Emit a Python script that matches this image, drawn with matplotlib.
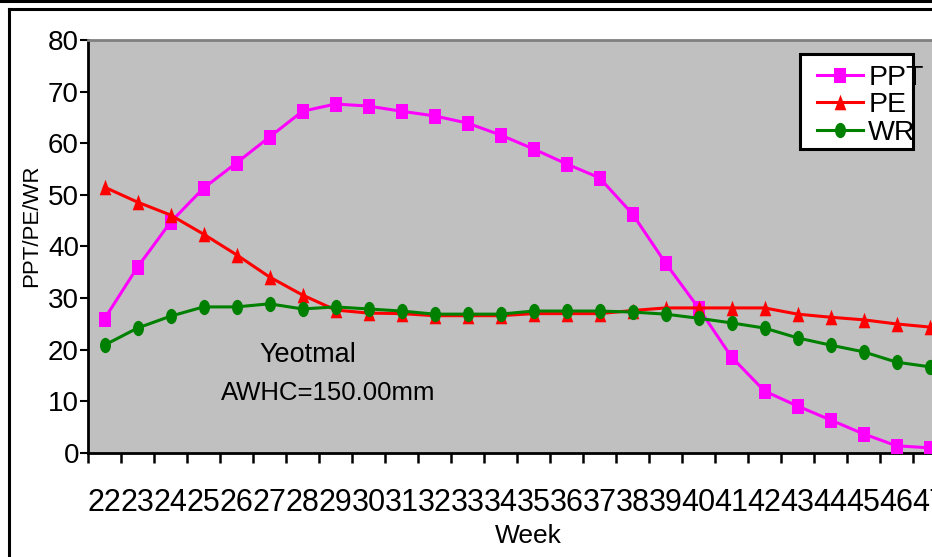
import numpy as np
import matplotlib
matplotlib.use("Agg")
import matplotlib.pyplot as plt
from matplotlib.path import Path
from matplotlib.lines import Line2D
from matplotlib.patches import Rectangle

weeks = list(range(22, 48))
ppt = [26.0, 36.0, 44.7, 51.3, 56.2, 61.2, 66.2, 67.6, 67.2, 66.2, 65.3, 63.9, 61.6,
       58.9, 56.0, 53.3, 46.3, 36.8, 28.1, 18.6, 12.0, 9.1, 6.4, 3.7, 1.4, 1.0]
pe = [51.5, 48.6, 46.1, 42.4, 38.4, 34.1, 30.6, 27.7, 27.1, 27.0, 26.6, 26.6, 26.6,
      27.0, 27.0, 27.0, 27.6, 28.1, 28.1, 28.1, 28.1, 26.9, 26.3, 25.8, 25.0, 24.4]
wr = [20.9, 24.2, 26.5, 28.3, 28.3, 28.9, 27.9, 28.3, 27.9, 27.5, 26.9, 26.9, 26.9,
      27.5, 27.5, 27.5, 27.3, 26.9, 26.1, 25.2, 24.2, 22.3, 20.9, 19.6, 17.6, 16.7]
series_names = ["PPT", "PE", "WR"]
yticks = list(range(0, 81, 10))

plt.rcParams['font.family'] = ['Liberation Sans', 'DejaVu Sans']

W, H = 932, 557
fig = plt.figure(figsize=(W / 100, H / 100), dpi=100)
fig.patch.set_facecolor('white')

ax = fig.add_axes([88 / W, 1 - 453 / H, 858 / W, 413 / H])
ax.set_facecolor('#C0C0C0')

# custom markers (horizontally squeezed shapes)
sq = Path([(-0.78, -1), (0.78, -1), (0.78, 1), (-0.78, 1), (-0.78, -1)],
          [Path.MOVETO, Path.LINETO, Path.LINETO, Path.LINETO, Path.CLOSEPOLY])
tri = Path([(-0.75, -1), (0.75, -1), (0, 1), (-0.75, -1)],
           [Path.MOVETO, Path.LINETO, Path.LINETO, Path.CLOSEPOLY])
uc = Path.unit_circle()
ell = Path(uc.vertices * np.array([0.72, 1.0]), uc.codes)

x = np.arange(len(weeks))
l1, = ax.plot(x, ppt, color='#FF00FF', lw=2.2, marker=sq, markersize=10.8,
              markeredgewidth=0, label=series_names[0], zorder=3)
l2, = ax.plot(x, pe, color='#FF0000', lw=2.2, marker=tri, markersize=11.2,
              markeredgewidth=0, label=series_names[1], zorder=4)
l3, = ax.plot(x, wr, color='#008000', lw=2.2, marker=ell, markersize=11.0,
              markeredgewidth=0, label=series_names[2], zorder=5)

ax.set_xlim(-0.5, len(weeks) - 0.5)
ax.set_ylim(0, 80)
ax.set_yticks(yticks)
ax.set_yticklabels([str(v) for v in yticks], fontsize=20)
ax.tick_params(axis='y', direction='out', length=5.5, width=1.5, pad=1, colors='black')

ax.set_xticks(x)
ax.set_xticklabels([str(w) for w in weeks], fontsize=22)
ax.set_xticks(np.arange(-0.5, len(weeks)), minor=True)
ax.tick_params(axis='x', which='major', length=0, pad=25)
ax.tick_params(axis='x', which='minor', direction='out', length=7.5, width=1.8, colors='black')

for s in ['left', 'bottom']:
    ax.spines[s].set_color('black')
    ax.spines[s].set_linewidth(2)
ax.spines['top'].set_color('#808080')
ax.spines['top'].set_linewidth(2)
ax.spines['right'].set_visible(False)

fig.text(32 / W, 1 - 226 / H, 'PPT/PE/WR', rotation=90, fontsize=16,
         ha='center', va='center')
fig.text(528 / W, 1 - 536 / H, 'Week', fontsize=19, ha='center', va='center')
fig.text(308 / W, 1 - 355 / H, 'Yeotmal', fontsize=19.5, ha='center', va='center')
fig.text(328 / W, 1 - 393 / H, 'AWHC=150.00mm', fontsize=18.5, ha='center', va='center')

# legend box
fig.add_artist(Rectangle((800 / W, 1 - 149 / H), 113 / W, 95 / H, transform=fig.transFigure,
                         facecolor='white', edgecolor='black', lw=2.2, zorder=5))
leg = fig.legend(handles=[l1, l2, l3], loc='upper left',
                 bbox_to_anchor=(817 / W, 1 - 65 / H), frameon=False,
                 fontsize=20.5, handlelength=1.6, handletextpad=0.2,
                 labelspacing=0.05, borderpad=0, borderaxespad=0)
leg.set_zorder(6)

# outer frame lines
fig.add_artist(Line2D([0, 1], [1 - 1 / H, 1 - 1 / H], transform=fig.transFigure,
                      color='black', lw=2.2))
fig.add_artist(Line2D([8.5 / W, 1], [1 - 8.5 / H, 1 - 8.5 / H], transform=fig.transFigure,
                      color='black', lw=2.2))
fig.add_artist(Line2D([9 / W, 9 / W], [0, 1 - 8.5 / H], transform=fig.transFigure,
                      color='black', lw=2.2))

fig.savefig('out.png', dpi=100)
